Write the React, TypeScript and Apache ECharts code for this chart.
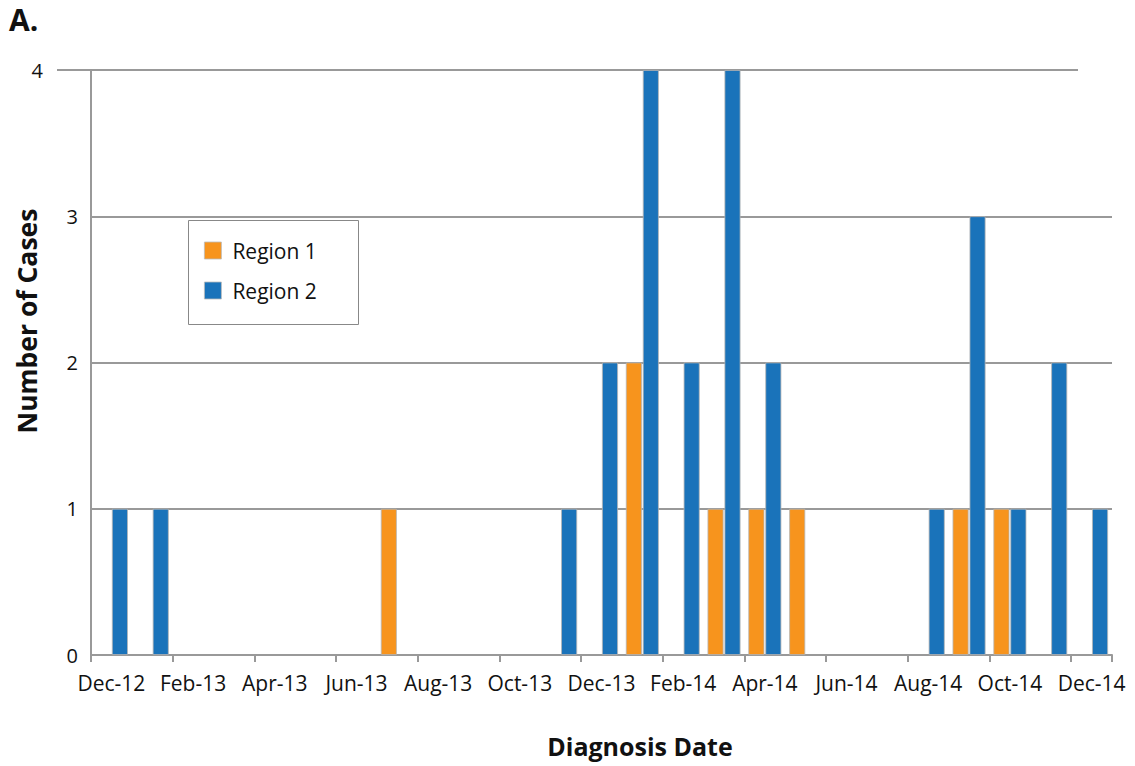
import React, { useEffect, useRef } from "react";
import * as echarts from "echarts";

const months = [
  "Dec-12", "Jan-13", "Feb-13", "Mar-13", "Apr-13", "May-13", "Jun-13", "Jul-13", "Aug-13",
  "Sep-13", "Oct-13", "Nov-13", "Dec-13", "Jan-14", "Feb-14", "Mar-14", "Apr-14", "May-14",
  "Jun-14", "Jul-14", "Aug-14", "Sep-14", "Oct-14", "Nov-14", "Dec-14",
];
const region1 = [0, 0, 0, 0, 0, 0, 0, 1, 0, 0, 0, 0, 0, 2, 0, 1, 1, 1, 0, 0, 0, 1, 1, 0, 0];
const region2 = [1, 1, 0, 0, 0, 0, 0, 0, 0, 0, 0, 1, 2, 4, 2, 4, 2, 0, 0, 0, 1, 3, 1, 2, 1];
const yMax = 4;

const FONT = "'Open Sans', 'Noto Sans', sans-serif";
const GRAY = "#999999";
const NONE = "rgba(0,0,0,0)";
const ORANGE = "#F7941D";
const BLUE = "#1A73BA";

const toItems = (arr: number[]) =>
  arr.map((v) => (v === 0 ? { value: v, itemStyle: { borderWidth: 0 } } : v));

export default function App() {
  const ref = useRef<HTMLDivElement>(null);
  useEffect(() => {
    if (!ref.current) return;
    const chart = echarts.init(ref.current, undefined, { renderer: "svg" });
    chart.setOption({
      animation: false,
      backgroundColor: "#ffffff",
      textStyle: { fontFamily: FONT },
      grid: [
        { left: 57, right: 57, top: 70, bottom: 111 },
        { left: 91, right: 23, top: 70, bottom: 111 },
      ],
      xAxis: [
        { gridIndex: 0, type: "value", show: false, min: 0, max: 1 },
        {
          gridIndex: 1,
          type: "category",
          data: months,
          boundaryGap: true,
          axisLine: { show: true, lineStyle: { color: GRAY, width: 2 } },
          axisTick: { show: true, interval: 1, length: 7, lineStyle: { color: GRAY, width: 2 } },
          axisLabel: { interval: 1, fontSize: 21, color: "#111", margin: 17, fontFamily: FONT },
          splitLine: { show: false },
        },
      ],
      yAxis: [
        {
          gridIndex: 0,
          type: "value",
          min: 0,
          max: yMax,
          interval: 1,
          axisLine: { show: false },
          axisTick: { show: false },
          axisLabel: {
            fontSize: 20,
            color: "#111",
            margin: 14,
            fontFamily: FONT,
            formatter: (v: number) => (v === yMax ? String(v) : ""),
          },
          splitLine: { show: true, lineStyle: { color: [NONE, NONE, NONE, NONE, GRAY], width: 2 } },
        },
        {
          gridIndex: 1,
          type: "value",
          min: 0,
          max: yMax,
          interval: 1,
          axisLine: { show: true, lineStyle: { color: GRAY, width: 2 } },
          axisTick: { show: false },
          axisLabel: {
            fontSize: 20,
            color: "#111",
            margin: 13,
            fontFamily: FONT,
            formatter: (v: number) => (v === yMax ? "" : String(v)),
          },
          splitLine: { show: true, lineStyle: { color: [NONE, GRAY, GRAY, GRAY, NONE], width: 2 } },
        },
      ],
      legend: {
        show: true,
        orient: "vertical",
        left: 204,
        top: 240,
        padding: 0,
        itemWidth: 17,
        itemHeight: 17,
        itemGap: 19,
        icon: "rect",
        itemStyle: { borderColor: "#bbb", borderWidth: 0.8 },
        textStyle: { fontSize: 21, lineHeight: 20, color: "#111", fontFamily: FONT, padding: [0, 0, 0, 6] },
        data: ["Region 1", "Region 2"],
      },
      series: [
        {
          name: "Region 1",
          type: "bar",
          xAxisIndex: 1,
          yAxisIndex: 1,
          data: toItems(region1),
          barWidth: 16,
          barGap: "6%",
          itemStyle: { color: ORANGE, borderColor: "#b5b5b5", borderWidth: 0.8 },
        },
        {
          name: "Region 2",
          type: "bar",
          xAxisIndex: 1,
          yAxisIndex: 1,
          data: toItems(region2),
          barWidth: 16,
          barGap: "6%",
          itemStyle: { color: BLUE, borderColor: "#b5b5b5", borderWidth: 0.8 },
        },
      ],
      graphic: [
        {
          type: "rect",
          shape: { x: 188.5, y: 220.5, width: 170, height: 104 },
          style: { fill: "#fff", stroke: "#888", lineWidth: 1 },
          z: 1,
        },
        {
          type: "text",
          x: 9,
          y: 4,
          style: { text: "A.", font: `bold 30px ${FONT}`, fill: "#111" },
        },
        {
          type: "text",
          x: 27,
          y: 321,
          rotation: Math.PI / 2,
          style: {
            text: "Number of Cases",
            font: `bold 26.5px ${FONT}`,
            fill: "#111",
            align: "center",
            verticalAlign: "middle",
          },
        },
        {
          type: "text",
          x: 640,
          y: 746,
          style: {
            text: "Diagnosis Date",
            font: `bold 25px ${FONT}`,
            fill: "#111",
            align: "center",
            verticalAlign: "middle",
          },
        },
      ],
    });
    return () => chart.dispose();
  }, []);
  return (
    <div
      ref={ref}
      style={{ position: "fixed", left: 0, top: 0, width: 1135, height: 766, background: "#fff" }}
    />
  );
}
